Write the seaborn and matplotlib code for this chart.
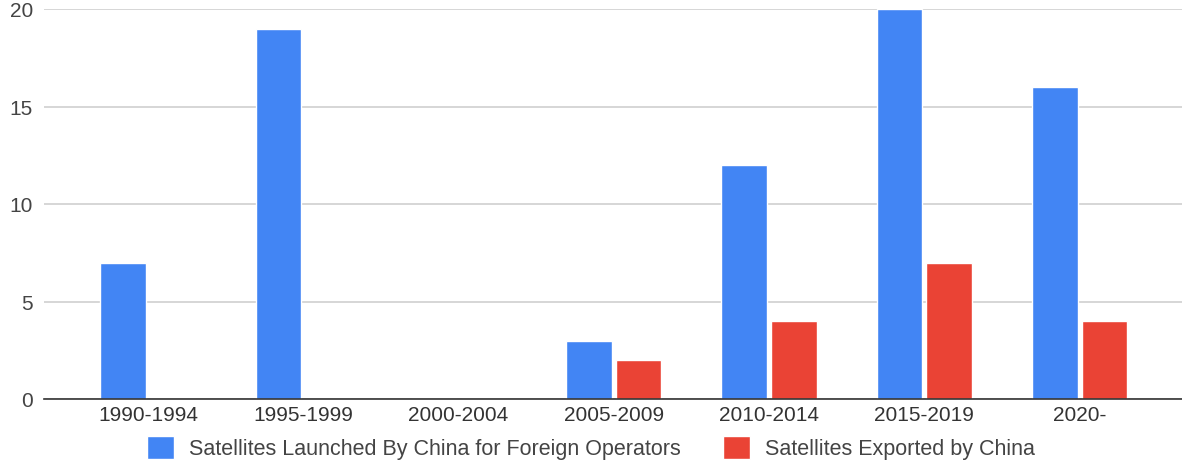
import matplotlib
matplotlib.use("Agg")
import matplotlib.pyplot as plt
import seaborn as sns
import pandas as pd

periods = ["1990-1994", "1995-1999", "2000-2004", "2005-2009", "2010-2014", "2015-2019", "2020-"]
launched = [7, 19, 0, 3, 12, 20, 16]
exported = [0, 0, 0, 2, 4, 7, 4]
series_names = ["Satellites Launched By China for Foreign Operators", "Satellites Exported by China"]
colors = ["#4285F4", "#EA4335"]
yticks = [0, 5, 10, 15, 20]

df = pd.DataFrame({
    "period": periods * 2,
    "count": launched + exported,
    "series": [series_names[0]] * len(periods) + [series_names[1]] * len(periods),
})

sns.set_theme(style="white")
plt.rcParams["font.family"] = ["Liberation Sans", "DejaVu Sans"]

fig = plt.figure(figsize=(11.82, 4.64), dpi=100)
ax = fig.add_axes([44 / 1182, 64 / 464, 1 - 44 / 1182, 390 / 464])

sns.barplot(data=df, x="period", y="count", hue="series", order=periods,
            hue_order=series_names, palette=colors, width=0.64, gap=0.08,
            saturation=1, ax=ax, legend=True)

ax.set_xlim(-0.67, 6.66)
ax.set_ylim(0, 20)
ax.set_yticks(yticks)
ax.set_yticklabels([str(v) for v in yticks])
ax.yaxis.grid(True, color="#d0d0d0", linewidth=1.2)
ax.set_axisbelow(True)
for s in ["top", "right", "left"]:
    ax.spines[s].set_visible(False)
ax.spines["bottom"].set_color("#333333")
ax.spines["bottom"].set_linewidth(1.2)
ax.set_xlabel("")
ax.set_ylabel("")
ax.tick_params(axis="x", length=0, labelsize=15, colors="#333333", pad=4)
ax.tick_params(axis="y", length=0, labelsize=15, colors="#444444", pad=8)

handles, labels = ax.get_legend_handles_labels()
ax.get_legend().remove()
fig.legend(handles, labels, loc="lower center", bbox_to_anchor=(0.5, -0.034), ncol=2,
           frameon=False, fontsize=15.5, handlelength=1.25, handleheight=1.25,
           columnspacing=2.0, handletextpad=0.7, labelcolor="#444444")

fig.savefig("out.png", dpi=100, facecolor="white")
